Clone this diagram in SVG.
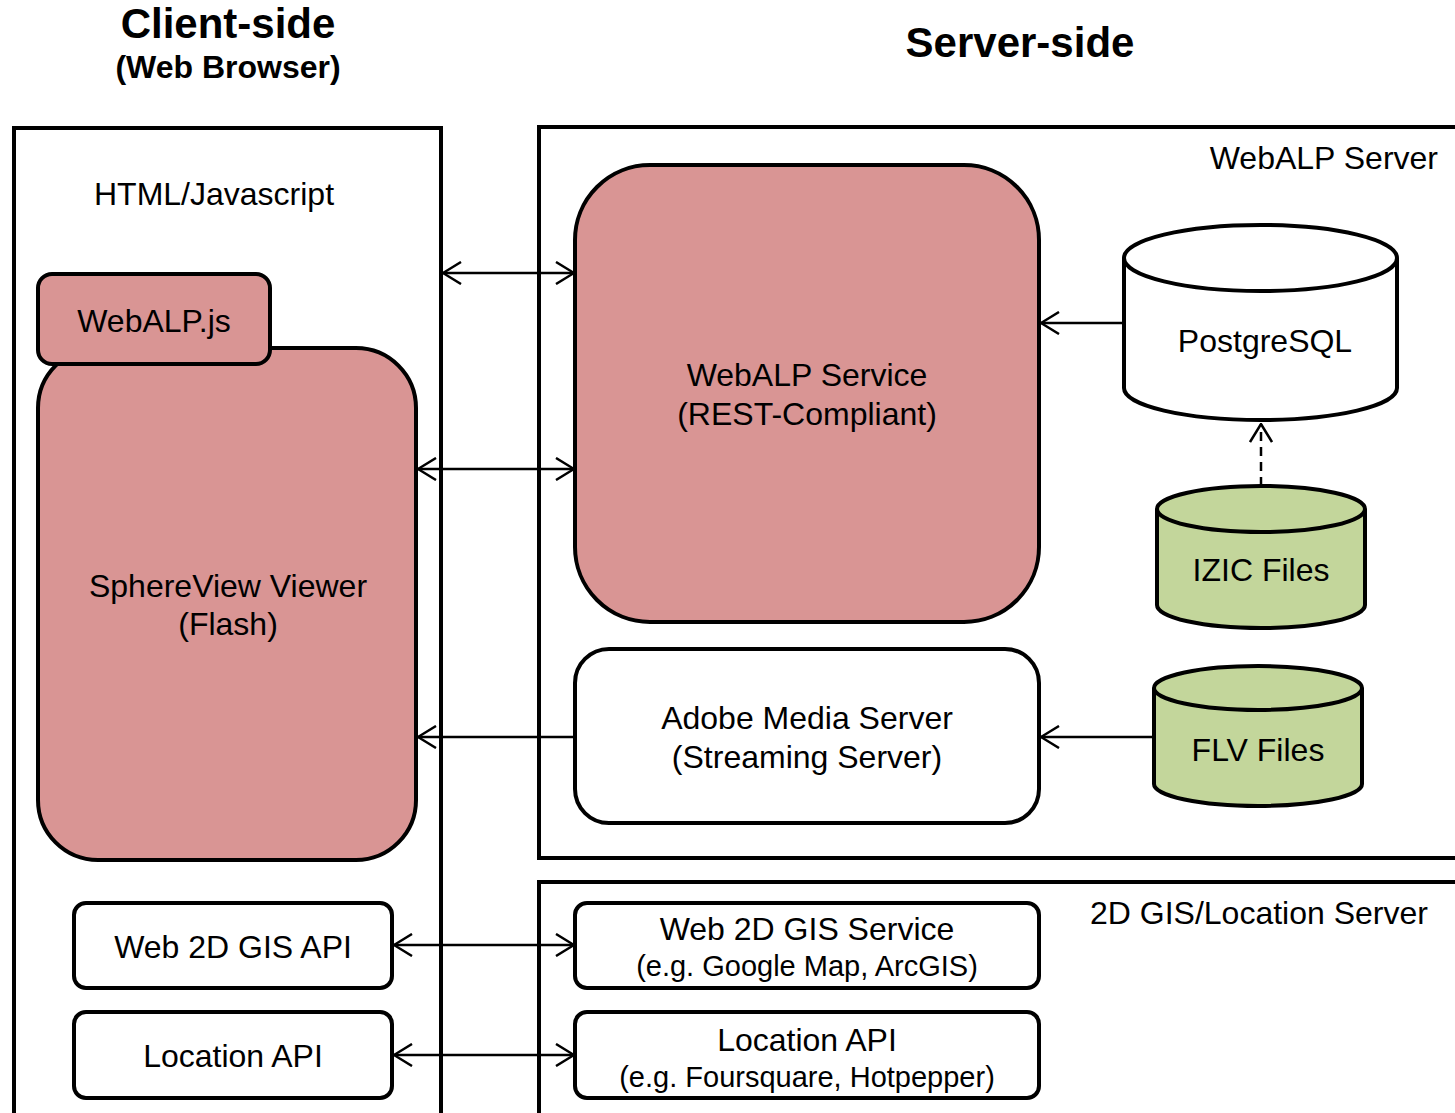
<svg xmlns="http://www.w3.org/2000/svg" width="1455" height="1113" viewBox="0 0 1455 1113">
<style>
text{font-family:"Liberation Sans",Arial,sans-serif;fill:#000}
.t{font-size:32px;text-anchor:middle}
.s{font-size:29px;text-anchor:middle}
.h{font-weight:bold;text-anchor:middle}
.frame{fill:none;stroke:#000;stroke-width:4}
.node{stroke:#000;stroke-width:4}
.pink{fill:#D99594}
.green{fill:#C3D69B}
.white{fill:#fff}
.conn line{stroke:#000;stroke-width:2.5;fill:none}
</style>
<defs>
<marker id="ah" viewBox="0 0 20 24" refX="19" refY="12" markerWidth="20" markerHeight="24" markerUnits="userSpaceOnUse" orient="auto-start-reverse">
<path d="M1,1 L19,12 L1,23" fill="none" stroke="#000" stroke-width="2.5"/>
</marker>
</defs>
<rect width="1455" height="1113" fill="#fff"/>
<g id="titles">
<text class="h" x="228" y="38" font-size="42">Client-side</text>
<text class="h" x="228" y="78" font-size="32">(Web Browser)</text>
<text class="h" x="1020" y="57" font-size="42">Server-side</text>
</g>
<g id="client-frame">
<rect class="frame" x="14" y="128" width="427" height="1010"/>
<text class="t" x="214" y="205">HTML/Javascript</text>
</g>
<g id="webalp-server-frame">
<rect class="frame" x="539" y="127" width="950" height="731"/>
<text x="1438" y="169" font-size="32" text-anchor="end">WebALP Server</text>
</g>
<g id="gis-server-frame">
<rect class="frame" x="539" y="882" width="950" height="300"/>
<text x="1090" y="924" font-size="32">2D GIS/Location Server</text>
</g>
<g id="sphereview">
<rect class="node pink" x="38" y="348" width="378" height="512" rx="60"/>
<text class="t" x="228" y="597">SphereView Viewer</text>
<text class="t" x="228" y="635">(Flash)</text>
</g>
<g id="webalpjs">
<rect class="node pink" x="38" y="274" width="232" height="90" rx="14"/>
<text class="t" x="154" y="332">WebALP.js</text>
</g>
<g id="webalp-service">
<rect class="node pink" x="575" y="165" width="464" height="457" rx="75"/>
<text class="t" x="807" y="386">WebALP Service</text>
<text class="t" x="807" y="425">(REST-Compliant)</text>
</g>
<g id="postgresql">
<path class="node white" d="M1124,258 A136.5,33 0 0 1 1397,258 L1397,388 A136.5,32 0 0 1 1124,388 Z"/>
<path class="node" fill="none" d="M1124,258 A136.5,33 0 0 0 1397,258"/>
<text class="t" x="1265" y="352">PostgreSQL</text>
</g>
<g id="izic">
<path class="node green" d="M1157,509 A104,23 0 0 1 1365,509 L1365,605 A104,23 0 0 1 1157,605 Z"/>
<path class="node" fill="none" d="M1157,509 A104,23 0 0 0 1365,509"/>
<text class="t" x="1261" y="581">IZIC Files</text>
</g>
<g id="adobe">
<rect class="node white" x="575" y="649" width="464" height="174" rx="34"/>
<text class="t" x="807" y="729">Adobe Media Server</text>
<text class="t" x="807" y="768">(Streaming Server)</text>
</g>
<g id="flv">
<path class="node green" d="M1154,688 A104,22 0 0 1 1362,688 L1362,784 A104,22 0 0 1 1154,784 Z"/>
<path class="node" fill="none" d="M1154,688 A104,22 0 0 0 1362,688"/>
<text class="t" x="1258" y="761">FLV Files</text>
</g>
<g id="web2dgis-api">
<rect class="node white" x="74" y="903" width="318" height="85" rx="12"/>
<text class="t" x="233" y="958">Web 2D GIS API</text>
</g>
<g id="location-api-client">
<rect class="node white" x="74" y="1012" width="318" height="86" rx="12"/>
<text class="t" x="233" y="1067">Location API</text>
</g>
<g id="web2dgis-service">
<rect class="node white" x="575" y="903" width="464" height="85" rx="12"/>
<text class="t" x="807" y="940">Web 2D GIS Service</text>
<text class="s" x="807" y="976">(e.g. Google Map, ArcGIS)</text>
</g>
<g id="location-api-server">
<rect class="node white" x="575" y="1012" width="464" height="86" rx="12"/>
<text class="t" x="807" y="1051">Location API</text>
<text class="s" x="807" y="1087">(e.g. Foursquare, Hotpepper)</text>
</g>
<g id="connectors" class="conn">
<line x1="443" y1="273" x2="574" y2="273" marker-start="url(#ah)" marker-end="url(#ah)"/>
<line x1="418" y1="469" x2="574" y2="469" marker-start="url(#ah)" marker-end="url(#ah)"/>
<line x1="1122" y1="323" x2="1041" y2="323" marker-end="url(#ah)"/>
<line x1="1261" y1="486" x2="1261" y2="424" stroke-dasharray="9,6" marker-end="url(#ah)"/>
<line x1="573" y1="737" x2="418" y2="737" marker-end="url(#ah)"/>
<line x1="1152" y1="737" x2="1041" y2="737" marker-end="url(#ah)"/>
<line x1="394" y1="945" x2="574" y2="945" marker-start="url(#ah)" marker-end="url(#ah)"/>
<line x1="394" y1="1055" x2="574" y2="1055" marker-start="url(#ah)" marker-end="url(#ah)"/>
</g>
</svg>
